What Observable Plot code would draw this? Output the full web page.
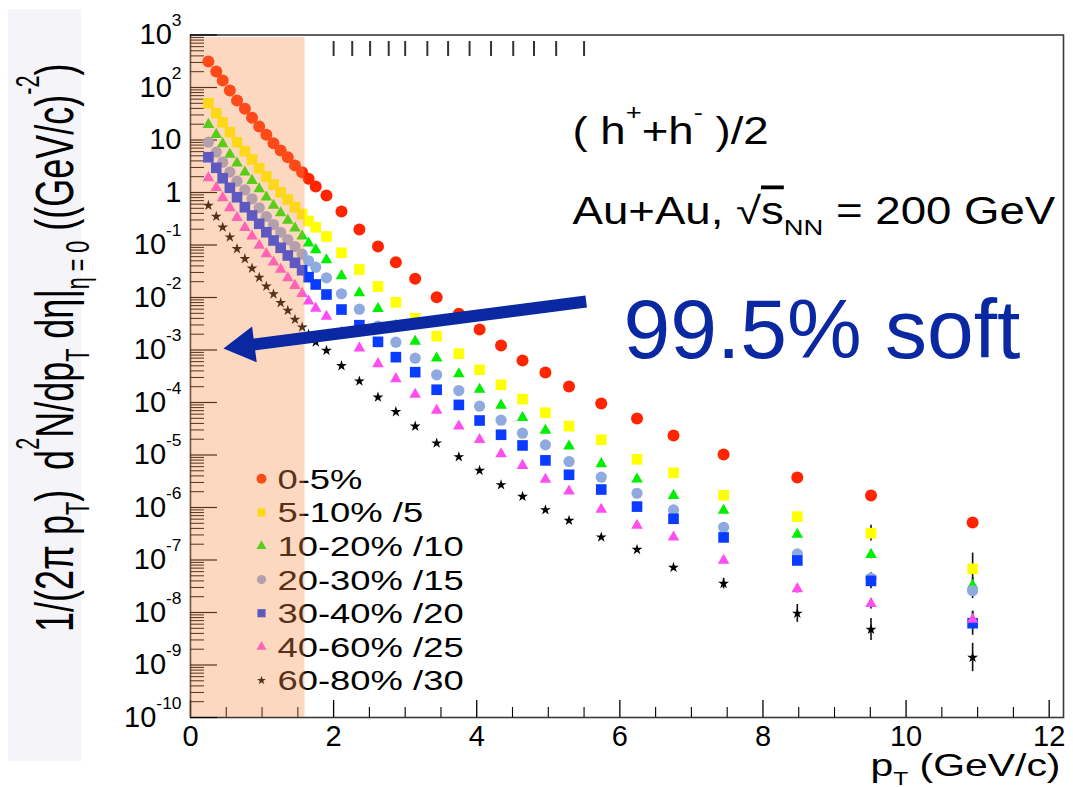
<!DOCTYPE html>
<html><head><meta charset="utf-8">
<script src="https://cdn.jsdelivr.net/npm/d3@7"></script>
<script src="https://cdn.jsdelivr.net/npm/@observablehq/plot@0.6"></script>
<style>
body{margin:0;background:#fff}
#chart{position:relative;width:1073px;height:787px}
svg text{white-space:pre}
</style>
</head><body><div id="chart"></div>
<script>
// ---------------- data ----------------
const pT = [0.25,0.36,0.45,0.55,0.65,0.76,0.86,0.96,1.06,1.16,1.26,1.36,1.46,1.56,1.65,1.75,
  1.9,2.11,2.36,2.62,2.87,3.14,3.44,3.75,4.04,4.34,
  4.64,4.96,5.29,5.74,6.24,6.75,7.45,8.48,9.51,10.93];

const y0_5 = [313,202,136,87.7,56.5,39.3,26.5,18.1,12.6,8.7,6.3,4.7,3.27,2.44,1.82,1.30,
  0.877,0.435,0.197,0.0936,0.047,0.0227,0.0101,0.0049,0.00245,1.22e-3,
  6.3e-4,3.73e-4,2.02e-4,9.6e-5,4.95e-5,2.35e-5,1.02e-5,3.73e-6,1.69e-6,5.2e-7];
const y5_10 = [50.2,32.4,21.8,14.1,9.08,6.12,4.25,2.90,2.02,1.42,1.01,0.736,0.525,0.389,0.286,0.218,
  0.145,0.071,0.0341,0.0162,0.0081,0.00402,0.00183,8.5e-4,4.2e-4,2.17e-4,
  1.16e-4,6.4e-5,3.54e-5,1.95e-5,8.3e-6,4.58e-6,1.71e-6,6.7e-7,3.24e-7,6.8e-8];
const y10_20 = [19.7,12.7,8.47,5.30,3.61,2.44,1.69,1.175,0.813,0.565,0.41,0.293,0.209,0.147,0.108,0.081,
  0.0522,0.0259,0.0122,0.00612,0.00293,0.00145,6.98e-4,3.49e-4,1.77e-4,8.85e-5,
  5.12e-5,2.93e-5,1.47e-5,6.8e-6,3.46e-6,1.69e-6,8.8e-7,3.06e-7,1.27e-7,3.27e-8];
const y20_30 = [9.08,5.86,3.78,2.44,1.64,1.12,0.759,0.511,0.349,0.245,0.175,0.127,0.0936,0.0668,0.05,0.0378,
  0.0237,0.0118,0.00598,0.00284,0.00141,6.98e-4,3.37e-4,1.69e-4,8.5e-5,4.6e-5,
  2.6e-5,1.56e-5,7.5e-6,3.78e-6,1.87e-6,9.0e-7,4.2e-7,1.31e-7,4.5e-8,2.6e-8];
const y30_40 = [4.70,2.95,1.87,1.23,0.813,0.525,0.365,0.254,0.175,0.122,0.0885,0.0631,0.0458,0.0331,0.0244,0.0177,
  0.0114,0.0059,0.00297,0.00143,7.3e-4,3.78e-4,1.75e-4,9.0e-5,4.54e-5,2.43e-5,
  1.52e-5,7.9e-6,4.2e-6,2.2e-6,1.04e-6,6.1e-7,2.69e-7,9.8e-8,4.0e-8,6.25e-9];
const y40_60 = [1.905,1.23,0.793,0.511,0.33,0.213,0.147,0.0977,0.0679,0.047,0.0341,0.0237,0.0169,0.0119,0.00851,0.00622,
  0.00435,0.00215,0.00109,5.46e-4,2.83e-4,1.42e-4,7.05e-5,3.54e-5,1.95e-5,1.05e-5,
  6.3e-6,3.41e-6,2.04e-6,9.2e-7,4.54e-7,2.72e-7,9.8e-8,2.83e-8,1.47e-8,7.4e-9];
const y60_80 = [0.565,0.349,0.218,0.141,0.0847,0.0546,0.036,0.024,0.0163,0.0116,0.00793,0.00565,0.00381,0.00272,0.00197,0.00141,
  9.8e-4,5.0e-4,2.55e-4,1.26e-4,6.65e-5,3.52e-5,1.68e-5,9.2e-6,5.07e-6,2.69e-6,
  1.62e-6,9.0e-7,5.65e-7,2.72e-7,1.58e-7,7.2e-8,3.56e-8,9.6e-9,4.74e-9,1.39e-9];

// error half-lengths (in decades) for the last four pT points of each series
const err0_5 = [0,0,0.02,0.04];
const err5_10 = [0.02,0.05,0.15,0.3];
const err10_20 = [0.02,0.05,0.08,0.15];
const err20_30 = [0.02,0.05,0.1,0.15];
const err30_40 = [0.03,0.06,0.15,0.23];
const err40_60 = [0.03,0.08,0.1,0.15];
const err60_80 = [0.1,0.17,0.21,0.27];

const seriesLabels = ["0-5%","5-10% /5","10-20% /10","20-30% /15","30-40% /20","40-60% /25","60-80% /30"];
const seriesValues = [y0_5,y5_10,y10_20,y20_30,y30_40,y40_60,y60_80];
const seriesErr = [err0_5,err5_10,err10_20,err20_30,err30_40,err40_60,err60_80];

const yTickValues = [1e3,1e2,1e1,1,1e-1,1e-2,1e-3,1e-4,1e-5,1e-6,1e-7,1e-8,1e-9,1e-10];
const yTickLabels = ["10^{3}","10^{2}","10","1","10^{-1}","10^{-2}","10^{-3}","10^{-4}","10^{-5}","10^{-6}","10^{-7}","10^{-8}","10^{-9}","10^{-10}"];
const xTickValues = [0,2,4,6,8,10,12];
const xTickLabels = ["0","2","4","6","8","10","12"];
const topDashPt = [2.0,2.26,2.51,2.77,3.0,3.31,3.6,3.9,4.2,4.51,4.8,5.11,5.5];
const softRange = [0, 1.6];
const arrowTail = {pT: 5.53, v: 8.4e-3};
const arrowTip = {pT: 0.46, v: 1.07e-3};

const titleLines = ["( h^{+}+h^{-} )/2", "Au+Au, √~{s}_{NN} = 200 GeV"];
const softLabel = "99.5% soft";
const xTitle = "p_{T} (GeV/c)";
const yTitle = "1/(2π p_{T})  d^{2}N/dp_{T} dη|_{η = 0} ((GeV/c)^{-2})";

// ---------------- styles ----------------
const symbols = ["circle","square","triangle","circle","square","triangle","star"];
const colors = ["#ff2500","#ffff00","#00ee00","#8eaadf","#0a3cff","#ff4ef0","#000000"];
const markerR = [6,6,4.3,5.6,6,4.3,3.4];
const legendR = [5,4.6,3.7,4.6,4.6,3.7,2.8];
const navy = "#0b28a3";
const FS = {tick: 29, legend: 28, title: 38, xTitle: 31, yTitle: 36, soft: 84};

const rows = seriesValues.flatMap((vals, s) => vals.map((v, i) => ({pT: pT[i], v, s})));
const errRows = seriesErr.flatMap((errs, s) => errs.map((e, j) => {
  const i = pT.length - errs.length + j, v = seriesValues[s][i];
  return {pT: pT[i], lo: v / 10 ** e, hi: v * 10 ** e, e};
})).filter(d => d.e > 0);

const yMinor = d3.range(-10, 3).flatMap(e => d3.range(2, 10).map(m => m * 10 ** e));
const xMinor = d3.range(0, 12.01, 0.5).filter(x => x % 2 !== 0);
const labelOf = new Map(yTickValues.map((v, i) => [v, yTickLabels[i]]));

const base = {
  width: 1073, height: 787,
  marginLeft: 190, marginRight: 10, marginTop: 34.5, marginBottom: 70,
  x: {domain: [0, 12.2]},
  y: {type: "log", domain: [1e-10, 1e3]},
  style: {background: "transparent", fontFamily: "'Liberation Sans', Arial, Helvetica, sans-serif", color: "#000", overflow: "visible"}
};
const frameW = 1073 - 190 - 10, frameH = 787 - 34.5 - 70;

// probe scales to orient the arrowhead
const probe = Plot.plot({...base, marks: [Plot.frame()]});
const SX = probe.scale("x"), SY = probe.scale("y");
const ax = SX.apply(arrowTip.pT) - SX.apply(arrowTail.pT), ay = SY.apply(arrowTip.v) - SY.apply(arrowTail.v);
const alen = Math.hypot(ax, ay), ux = ax / alen, uy = ay / alen;
const headR = 13.4, headD = 2 * Math.sqrt(Math.PI * headR * headR / (3 * Math.sqrt(3)));
const headRot = Math.atan2(ux, -uy) * 180 / Math.PI;

const marks = [
  Plot.frame({stroke: "#3a3a3a", strokeWidth: 1.6}),
  Plot.tickY(yTickValues, {y: d => d, insetRight: frameW - 27, stroke: "#000", strokeWidth: 1.2}),
  Plot.tickY(yMinor, {y: d => d, insetRight: frameW - 14, stroke: "#000", strokeWidth: 1}),
  Plot.tickX(xTickValues, {x: d => d, insetTop: frameH - 17, stroke: "#000", strokeWidth: 1.3}),
  Plot.tickX(xMinor, {x: d => d, insetTop: frameH - 10, stroke: "#000", strokeWidth: 1.1}),
  Plot.tickX(topDashPt, {x: d => d, insetTop: 6.5, insetBottom: frameH - 21.5, stroke: "#333", strokeWidth: 2}),
  Plot.axisY(yTickValues, {tickSize: 0, tickPadding: 9, fontSize: FS.tick, label: null, tickFormat: d => labelOf.get(d)}),
  Plot.axisX(xTickValues, {tickSize: 0, tickPadding: 8, fontSize: FS.tick, label: null, tickFormat: (d) => xTickLabels[xTickValues.indexOf(d)]}),
  Plot.ruleX(errRows, {x: "pT", y1: "lo", y2: "hi", stroke: "#111", strokeWidth: 1.6}),
  ...seriesValues.map((_, s) => Plot.dot(rows.filter(d => d.s === s), {
    x: "pT", y: "v", symbol: symbols[s], fill: colors[s], r: markerR[s], stroke: "none"
  })),
  ...seriesLabels.map((lab, i) => Plot.dot([lab], {
    frameAnchor: "bottom-left", dx: 71, dy: -(238.7 - i * 33.6),
    symbol: symbols[i], fill: colors[i], r: legendR[i]
  })),
  ...seriesLabels.map((lab, i) => Plot.text([lab], {
    text: d => d, frameAnchor: "bottom-left", dx: 87, dy: -(238.7 - i * 33.6) + 10,
    textAnchor: "start", lineAnchor: "bottom", fontSize: FS.legend, fill: "#000"
  })),
  Plot.rect([softRange], {x1: d => d[0], x2: d => d[1], fill: "rgb(249,144,75)", fillOpacity: 0.35, insetTop: 2.5}),
  Plot.arrow([{a: arrowTail, b: arrowTip}], {
    x1: d => d.a.pT, y1: d => d.a.v, x2: d => d.b.pT, y2: d => d.b.v,
    stroke: navy, strokeWidth: 12, headLength: 0, insetEnd: 16, strokeLinecap: "butt"
  }),
  Plot.dot([arrowTip], {x: "pT", y: "v", symbol: "triangle", r: headR, rotate: headRot,
    fill: navy, stroke: "none", dx: -headD * ux, dy: -headD * uy}),
  Plot.text([titleLines[0]], {text: d => d, frameAnchor: "top-left", dx: 382, dy: 108.5,
    textAnchor: "start", lineAnchor: "bottom", fontSize: FS.title, fill: "#000"}),
  Plot.text([titleLines[1]], {text: d => d, frameAnchor: "top-left", dx: 382, dy: 188.5,
    textAnchor: "start", lineAnchor: "bottom", fontSize: FS.title, fill: "#000"}),
  Plot.text([softLabel], {text: d => d, frameAnchor: "top-left", dx: 433, dy: 322.5,
    textAnchor: "start", lineAnchor: "bottom", fontSize: FS.soft, fill: navy}),
  Plot.text([xTitle], {text: d => d, frameAnchor: "bottom-right", dx: -3, dy: 58,
    textAnchor: "end", lineAnchor: "bottom", fontSize: FS.xTitle, fill: "#000"}),
  Plot.text([yTitle], {text: d => d, frameAnchor: "top-left", dx: 72 - 190, dy: 63 - 34.5, rotate: -90,
    textAnchor: "end", lineAnchor: "bottom", fontSize: FS.yTitle, fill: "#000"})
];

const svg = Plot.plot({...base, marks});

// light panel behind the vertical title
d3.select(svg).insert("rect", ":first-child")
  .attr("x", 8).attr("y", 9).attr("width", 73).attr("height", 752).attr("fill", "#f5f4f8");

// rich text: ^{sup}, _{sub}, ~{overline}
function richify(sel, fs) {
  sel.each(function() {
    const t = this.textContent;
    this.setAttribute("xml:space", "preserve");
    if (!/[\^_~]\{/.test(t)) return;
    const parts = [], re = /([\^_~])\{([^}]*)\}/g;
    let last = 0, m;
    while ((m = re.exec(t))) {
      if (m.index > last) parts.push(["", t.slice(last, m.index)]);
      parts.push([m[1], m[2]]);
      last = re.lastIndex;
    }
    if (last < t.length) parts.push(["", t.slice(last)]);
    this.textContent = "";
    let cur = 0;
    for (const [k, s] of parts) {
      const target = k === "^" ? -0.62 * fs : k === "_" ? 0.3 * fs : 0;
      const ts = d3.select(this).append("tspan").text(s);
      if (target !== cur) ts.attr("dy", target - cur);
      cur = target;
      if (k === "^" || k === "_") ts.attr("font-size", 0.6 * fs);
      if (k === "~") ts.style("text-decoration", "overline");
    }
  });
}
// horizontal (or glyph-height) stretch about each text's own anchor
function stretch(sel, sx, sy) {
  sel.each(function() {
    let tr = this.getAttribute("transform") || "";
    const xa = this.getAttribute("x");
    if (xa !== null && !isNaN(+xa)) {
      this.removeAttribute("x");
      tr += ` translate(${+xa},0)`;
    }
    this.setAttribute("transform", `${tr} scale(${sx},${sy})`);
  });
}
const S = d3.select(svg);
const bySize = fs => S.selectAll(`g[font-size="${fs}"] text`);
richify(bySize(FS.tick), FS.tick);
richify(bySize(FS.legend), FS.legend);
richify(bySize(FS.title), FS.title);
richify(bySize(FS.xTitle), FS.xTitle);
richify(bySize(FS.yTitle), FS.yTitle);
stretch(bySize(FS.legend), 1.3, 1);
stretch(bySize(FS.title), 1.2, 1);
stretch(bySize(FS.xTitle), 1.32, 1);
stretch(bySize(FS.yTitle), 1, 1.5);

document.getElementById("chart").appendChild(svg);
</script>
</body></html>
